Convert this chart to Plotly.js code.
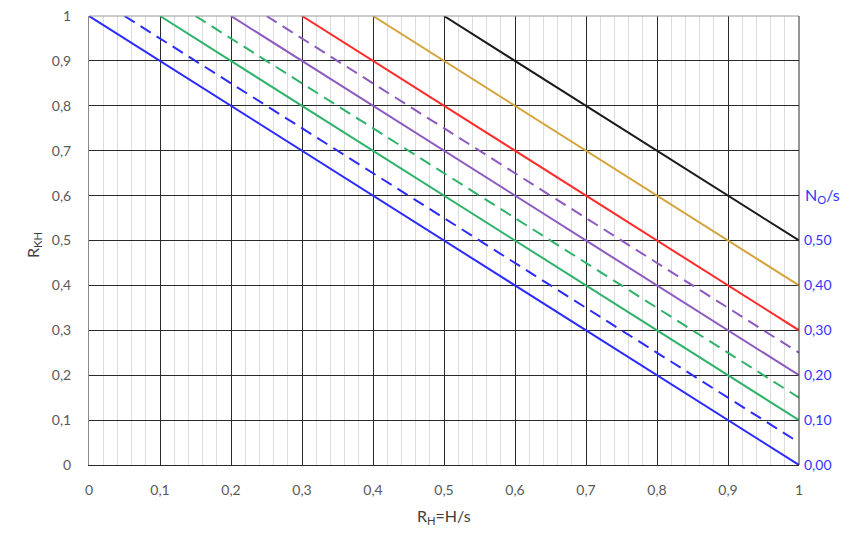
<!DOCTYPE html>
<html><head><meta charset="utf-8">
<script src="https://cdn.plot.ly/plotly-3.0.1.min.js"></script>
<style>body{margin:0;background:#fff}#c{width:850px;height:535px}</style>
</head><body><div id="c"></div>
<script>
// N_O/s offsets of each line: R_KH = 1 - R_H + N_O/s
const offsets = [0.00, 0.05, 0.10, 0.15, 0.20, 0.25, 0.30, 0.40, 0.50];
const colors  = ['#2b2bff','#2b2bff','#2fb36a','#2fb36a','#8c5ac0','#8c5ac0','#ff2b2b','#d4a43a','#1a1a1a'];
const dashes  = ['solid','12px,7px','solid','12px,7px','solid','12px,7px','solid','solid','solid'];
const xTicks = [0,0.1,0.2,0.3,0.4,0.5,0.6,0.7,0.8,0.9,1];
const yTicks = [0,0.1,0.2,0.3,0.4,0.5,0.6,0.7,0.8,0.9,1];
const rightTicks = [0,0.1,0.2,0.3,0.4,0.5];
const rightLabels = ['0,00','0,10','0,20','0,30','0,40','0,50'];

const traces = offsets.map((c,i)=>({
  x:[c,1], y:[1,c], mode:'lines', type:'scatter',
  line:{color:colors[i], width:2, dash:dashes[i]}, hoverinfo:'skip', showlegend:false
}));
// invisible trace carrying the right axis
traces.push({x:[0],y:[0],yaxis:'y2',mode:'markers',marker:{opacity:0},showlegend:false,hoverinfo:'skip'});

const font = {family:'Lato, "Open Sans", sans-serif', size:14, color:'#595959'};
const layout = {
  width:850, height:535,
  margin:{l:89,r:51,t:16,b:70},
  separators:', ',
  paper_bgcolor:'#fff', plot_bgcolor:'#fff',
  font:font,
  xaxis:{range:[0,1], tickvals:xTicks, showgrid:true, gridcolor:'#2a2a2a', gridwidth:1,
    minor:{dtick:0.02, showgrid:true, gridcolor:'#dcdcdc', gridwidth:1},
    zeroline:false, showline:true, linecolor:'#2a2a2a', linewidth:1, mirror:false,
    ticks:'', ticklabelstandoff:12, tickfont:font, fixedrange:true},
  yaxis:{range:[0,1], tickvals:yTicks, showgrid:true, gridcolor:'#2a2a2a', gridwidth:1,
    zeroline:false, showline:true, linecolor:'#8a8a8a', linewidth:1,
    ticks:'', ticklabelstandoff:14, tickfont:font, fixedrange:true},
  yaxis2:{range:[0,1], overlaying:'y', side:'right', tickvals:rightTicks, ticktext:rightLabels,
    showgrid:false, zeroline:false, showline:false, ticks:'', ticklabelstandoff:4,
    tickfont:{family:font.family, size:14, color:'#3333ff'}, fixedrange:true},
  shapes:[
    {type:'line', xref:'paper', yref:'paper', x0:0, x1:1, y0:1, y1:1, line:{color:'#9a9a9a', width:1}},
    {type:'line', xref:'paper', yref:'paper', x0:1, x1:1, y0:0, y1:1, line:{color:'#2a2a2a', width:1}}
  ],
  annotations:[
    {text:'R<sub>KH</sub>', xref:'paper', yref:'paper', x:-0.095, y:0.49, showarrow:false, textangle:-90,
     font:{family:font.family, size:16, color:'#404040'}},
    {text:'R<sub>H</sub>=H/s', xref:'paper', yref:'paper', x:0.5, y:-0.115, showarrow:false, yanchor:'middle',
     font:{family:font.family, size:16, color:'#404040'}},
    {text:'N<sub>O</sub>/s', xref:'paper', x:1.005, y:0.6, xanchor:'left', yanchor:'middle', showarrow:false,
     font:{family:font.family, size:16, color:'#3333ff'}}
  ]
};
Plotly.newPlot('c', traces, layout, {staticPlot:true});
</script></body></html>
